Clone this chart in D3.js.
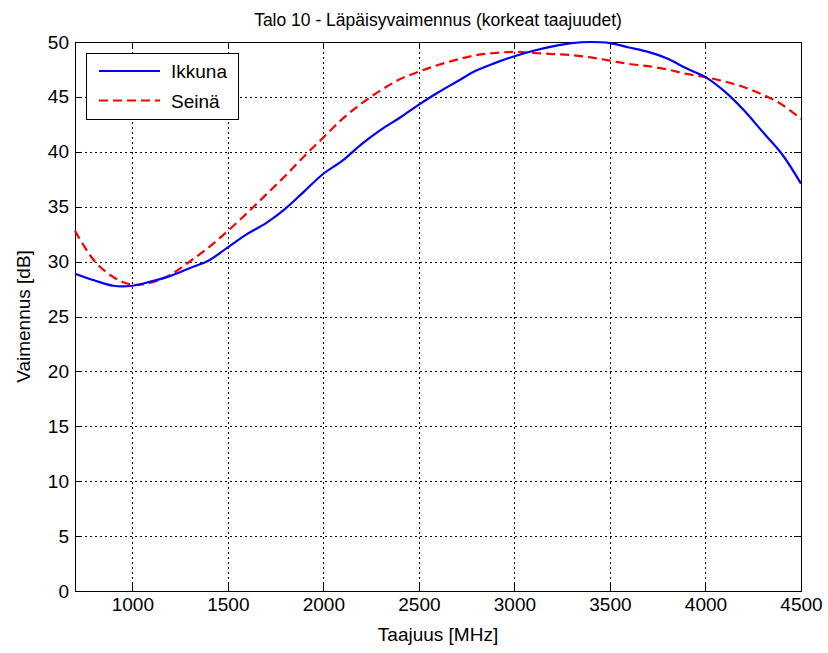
<!DOCTYPE html>
<html>
<head>
<meta charset="utf-8">
<script src="https://cdn.jsdelivr.net/npm/d3@7"></script>
<style>
  body { margin: 0; background: #fff; }
  svg { font-family: "Liberation Sans", Arial, sans-serif; }
</style>
</head>
<body>
<svg id="chart" width="828" height="653"></svg>
<script>
// data
const freqs = [700, 800, 900, 1000, 1100, 1200, 1300, 1400, 1500, 1600, 1700, 1800, 1900, 2000,
  2100, 2200, 2300, 2400, 2500, 2600, 2700, 2800, 2900, 3000, 3100, 3200, 3300, 3400, 3500,
  3600, 3700, 3800, 3900, 4000, 4100, 4200, 4300, 4400, 4500];
const ikkuna = [28.9, 28.3, 27.8, 27.8, 28.2, 28.7, 29.4, 30.1, 31.3, 32.5, 33.5, 34.8, 36.4, 38.0,
  39.2, 40.7, 42.0, 43.1, 44.3, 45.4, 46.4, 47.4, 48.1, 48.7, 49.2, 49.6, 49.9, 50.0, 49.9,
  49.5, 49.1, 48.5, 47.6, 46.8, 45.5, 43.8, 41.8, 39.8, 37.1];
const seina = [32.8, 30.1, 28.6, 27.9, 28.1, 28.8, 30.0, 31.3, 32.8, 34.4, 36.1, 37.8, 39.6, 41.3,
  43.0, 44.4, 45.6, 46.6, 47.3, 47.9, 48.4, 48.8, 49.0, 49.1, 49.0, 48.9, 48.8, 48.6, 48.3,
  48.0, 47.8, 47.5, 47.1, 46.8, 46.4, 45.9, 45.2, 44.3, 43.0];
const xTicks = [1000, 1500, 2000, 2500, 3000, 3500, 4000, 4500];
const yTicks = [0, 5, 10, 15, 20, 25, 30, 35, 40, 45, 50];
const seriesNames = ["Ikkuna", "Seinä"];

const plot = { left: 75, right: 801, top: 42, bottom: 591 };
const fontSize = 19;
const svg = d3.select("#chart");

const x = d3.scaleLinear().domain([700, 4500]).range([plot.left, plot.right]);
const y = d3.scaleLinear().domain([0, 50]).range([plot.bottom, plot.top]);

// grid
const grid = svg.append("g").attr("stroke", "#000").attr("stroke-width", 1)
  .attr("stroke-dasharray", "2,3").attr("shape-rendering", "crispEdges");
grid.selectAll(".gx").data(xTicks.filter(d => d < 4500)).join("line")
  .attr("x1", d => Math.round(x(d)) + 0.5).attr("x2", d => Math.round(x(d)) + 0.5)
  .attr("y1", plot.top).attr("y2", plot.bottom);
grid.selectAll(".gy").data(yTicks.filter(d => d > 0 && d < 50)).join("line")
  .attr("y1", d => Math.round(y(d)) + 0.5).attr("y2", d => Math.round(y(d)) + 0.5)
  .attr("x1", plot.left).attr("x2", plot.right);

// axes (MATLAB box style, ticks inside)
const fmt = d3.format("d");
const xAxisB = d3.axisBottom(x).tickValues(xTicks).tickSizeInner(-7).tickSizeOuter(0).tickPadding(7).tickFormat(fmt);
const xAxisT = d3.axisTop(x).tickValues(xTicks).tickSizeInner(-7).tickSizeOuter(0).tickFormat("");
const yAxisL = d3.axisLeft(y).tickValues(yTicks).tickSizeInner(-7).tickSizeOuter(0).tickPadding(6).tickFormat(fmt);
const yAxisR = d3.axisRight(y).tickValues(yTicks).tickSizeInner(-7).tickSizeOuter(0).tickFormat("");

function style(g) {
  g.select(".domain").remove();
  g.selectAll("line").attr("stroke", "#000").attr("shape-rendering", "crispEdges");
  g.selectAll("text").attr("fill", "#000").attr("font-size", fontSize)
    .attr("font-family", "Liberation Sans, Arial, sans-serif");
}
svg.append("g").attr("transform", `translate(0,${plot.bottom})`).call(xAxisB).call(style);
svg.append("g").attr("transform", `translate(0,${plot.top})`).call(xAxisT).call(style);
svg.append("g").attr("transform", `translate(${plot.left},0)`).call(yAxisL).call(style);
svg.append("g").attr("transform", `translate(${plot.right},0)`).call(yAxisR).call(style);

svg.append("rect").attr("x", plot.left + 0.5).attr("y", plot.top + 0.5)
  .attr("width", plot.right - plot.left).attr("height", plot.bottom - plot.top)
  .attr("fill", "none").attr("stroke", "#000").attr("stroke-width", 1);

// lines
const line = vals => d3.line().curve(d3.curveCatmullRom).x((d, i) => x(freqs[i])).y(d => y(d))(vals);
svg.append("path").attr("d", line(seina)).attr("fill", "none")
  .attr("stroke", "#ff0000").attr("stroke-width", 2.2).attr("stroke-dasharray", "9,5");
svg.append("path").attr("d", line(ikkuna)).attr("fill", "none")
  .attr("stroke", "#0000ff").attr("stroke-width", 2.2);

// titles
svg.append("text").attr("x", (plot.left + plot.right) / 2).attr("y", 26).attr("text-anchor", "middle")
  .attr("font-size", 17.5).text("Talo 10 - Läpäisyvaimennus (korkeat taajuudet)");
svg.append("text").attr("x", (plot.left + plot.right) / 2).attr("y", 641).attr("text-anchor", "middle")
  .attr("font-size", fontSize).text("Taajuus [MHz]");
svg.append("text").attr("transform", `translate(30,${(plot.top + plot.bottom) / 2}) rotate(-90)`)
  .attr("text-anchor", "middle").attr("font-size", fontSize).text("Vaimennus [dB]");

// legend
const lg = svg.append("g");
lg.append("rect").attr("x", 86.5).attr("y", 53.5).attr("width", 152).attr("height", 66)
  .attr("fill", "#fff").attr("stroke", "#000");
const styles = [{ c: "#0000ff", d: null }, { c: "#ff0000", d: "9,5" }];
seriesNames.forEach((n, i) => {
  const yy = 71 + i * 29.5;
  lg.append("line").attr("x1", 99).attr("x2", 160).attr("y1", yy).attr("y2", yy)
    .attr("stroke", styles[i].c).attr("stroke-width", 2.2).attr("stroke-dasharray", styles[i].d);
  lg.append("text").attr("x", 171).attr("y", yy + 7).attr("font-size", fontSize).text(n);
});
</script>
</body>
</html>
